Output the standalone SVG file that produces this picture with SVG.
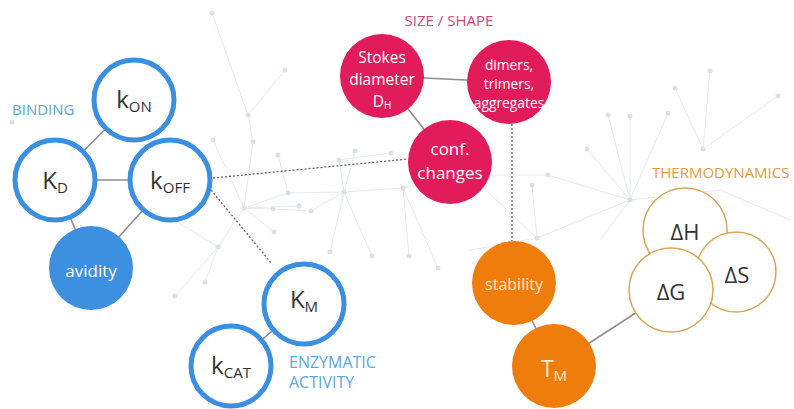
<svg xmlns="http://www.w3.org/2000/svg" width="794" height="409" viewBox="0 0 794 409">
<style>
text{font-family:"Open Sans","Liberation Sans",sans-serif}
.bg line{stroke:#e6eaef;stroke-width:1}
.bg circle{fill:#dce1e6}
.solid{stroke:#8f8f8f;stroke-width:1.6;fill:none}
.dot{stroke:#666;stroke-width:1.3;stroke-dasharray:2 2;fill:none}
.bc{fill:#fff;stroke:#3b8fe0;stroke-width:5}
.bf{fill:#3d8fe0}
.pk{fill:#e21b5a}
.or{fill:#ee7d0b}
.th{fill:#fff;stroke:#d9a656;stroke-width:1.5}
.dk{fill:#333;text-anchor:middle}
.wt{fill:#fff;text-anchor:middle}
.lblue{fill:#5ea7dc;font-size:15px}
</style>
<rect width="794" height="409" fill="#fff"/>
<g class="bg" id="background">
<line x1="244" y1="208" x2="213" y2="140"/><line x1="244" y1="208" x2="288" y2="193"/><line x1="244" y1="208" x2="273" y2="209"/>
<line x1="244" y1="208" x2="274" y2="232"/><line x1="244" y1="208" x2="218" y2="247"/><line x1="244" y1="208" x2="299" y2="206"/>
<line x1="244" y1="208" x2="253" y2="142"/><line x1="288" y1="193" x2="344" y2="192"/><line x1="344" y1="192" x2="403" y2="188"/>
<line x1="344" y1="192" x2="339" y2="160"/><line x1="344" y1="192" x2="330" y2="252"/><line x1="344" y1="192" x2="372" y2="256"/>
<line x1="311" y1="211" x2="344" y2="192"/><line x1="403" y1="188" x2="409" y2="256"/><line x1="403" y1="188" x2="438" y2="268"/>
<line x1="339" y1="160" x2="391" y2="153"/><line x1="278" y1="155" x2="288" y2="193"/><line x1="273" y1="209" x2="311" y2="211"/>
<line x1="218" y1="247" x2="205" y2="282"/><line x1="218" y1="247" x2="175" y2="296"/><line x1="212" y1="13" x2="248" y2="115"/>
<line x1="285" y1="70" x2="248" y2="115"/><line x1="248" y1="115" x2="253" y2="142"/><line x1="355" y1="151" x2="344" y2="192"/>
<line x1="403" y1="188" x2="470" y2="175"/><line x1="470" y1="175" x2="537" y2="238"/><line x1="470" y1="175" x2="548" y2="175"/>
<line x1="548" y1="175" x2="630" y2="200"/><line x1="537" y1="238" x2="630" y2="200"/><line x1="532" y1="185" x2="537" y2="238"/>
<line x1="630" y1="200" x2="630" y2="116"/><line x1="630" y1="200" x2="668" y2="113"/><line x1="630" y1="200" x2="608" y2="115"/>
<line x1="675" y1="88" x2="703" y2="149"/><line x1="710" y1="71" x2="703" y2="149"/><line x1="703" y1="149" x2="778" y2="96"/>
<line x1="587" y1="149" x2="630" y2="200"/><line x1="630" y1="200" x2="720" y2="190"/><line x1="537" y1="238" x2="470" y2="250"/>
<line x1="720" y1="190" x2="790" y2="220"/><line x1="600" y1="240" x2="630" y2="200"/><line x1="150" y1="205" x2="218" y2="247"/>
<circle cx="213" cy="140" r="2.5"/><circle cx="253" cy="142" r="2.5"/><circle cx="278" cy="155" r="2.5"/><circle cx="339" cy="160" r="2.5"/>
<circle cx="355" cy="151" r="2.5"/><circle cx="391" cy="153" r="2.5"/><circle cx="288" cy="193" r="2.5"/><circle cx="244" cy="208" r="2.5"/>
<circle cx="273" cy="209" r="2.5"/><circle cx="299" cy="206" r="2.5"/><circle cx="311" cy="211" r="2.5"/><circle cx="344" cy="192" r="2.5"/>
<circle cx="403" cy="188" r="2.5"/><circle cx="274" cy="232" r="2.5"/><circle cx="218" cy="247" r="2.5"/><circle cx="330" cy="252" r="2.5"/>
<circle cx="372" cy="256" r="2.5"/><circle cx="409" cy="256" r="2.5"/><circle cx="438" cy="268" r="2.5"/><circle cx="205" cy="282" r="2.5"/>
<circle cx="175" cy="296" r="2.5"/><circle cx="212" cy="13" r="2.5"/><circle cx="285" cy="70" r="2.5"/><circle cx="248" cy="115" r="2.5"/>
<circle cx="537" cy="238" r="2.5"/><circle cx="548" cy="175" r="2.5"/><circle cx="532" cy="185" r="2.5"/><circle cx="630" cy="200" r="2.5"/>
<circle cx="608" cy="115" r="2.5"/><circle cx="630" cy="116" r="2.5"/><circle cx="668" cy="113" r="2.5"/><circle cx="675" cy="88" r="2.5"/>
<circle cx="710" cy="71" r="2.5"/><circle cx="703" cy="149" r="2.5"/><circle cx="778" cy="96" r="2.5"/><circle cx="587" cy="149" r="2.5"/>
<circle cx="12" cy="122" r="2.5"/><circle cx="470" cy="175" r="2.5"/>
</g>
<g id="connectors">
<line class="solid" x1="134" y1="100" x2="55" y2="180"/>
<line class="solid" x1="55" y1="180" x2="170" y2="180"/>
<line class="solid" x1="55" y1="180" x2="91" y2="268"/>
<line class="solid" x1="170" y1="180" x2="91" y2="268"/>
<line class="solid" x1="304" y1="304" x2="231" y2="366"/>
<line class="solid" x1="382" y1="76" x2="508" y2="82"/>
<line class="solid" x1="382" y1="76" x2="450" y2="162"/>
<line class="solid" x1="514" y1="283" x2="554" y2="366"/>
<line class="solid" x1="554" y1="366" x2="671" y2="290"/>
<line class="dot" x1="213" y1="178" x2="408" y2="159"/>
<line class="dot" x1="211" y1="190" x2="272" y2="264"/>
<line class="dot" x1="512" y1="124" x2="512" y2="241"/>
</g>
<g id="label-binding"><text class="lblue" x="12" y="115">BINDING</text></g>
<g id="label-enzymatic"><text class="lblue" x="289" y="368" style="font-size:16px">ENZYMATIC</text><text class="lblue" x="289" y="388" style="font-size:16px">ACTIVITY</text></g>
<g id="label-size"><text x="449" y="26" style="fill:#c9497a;font-size:15px;text-anchor:middle">SIZE / SHAPE</text></g>
<g id="label-thermo"><text x="652" y="178" style="fill:#e39a3a;font-size:15px">THERMODYNAMICS</text></g>
<g id="kon"><circle class="bc" cx="134" cy="100" r="40"/><text class="dk" x="134" y="108" style="font-size:24px">k<tspan dy="4" style="font-size:15px">ON</tspan></text></g>
<g id="kd"><circle class="bc" cx="55" cy="180" r="40"/><text class="dk" x="55" y="189" style="font-size:24px">K<tspan dy="4" style="font-size:15px">D</tspan></text></g>
<g id="koff"><circle class="bc" cx="170" cy="180" r="40"/><text class="dk" x="170" y="189" style="font-size:24px">k<tspan dy="4" style="font-size:15px">OFF</tspan></text></g>
<g id="avidity"><circle class="bf" cx="91" cy="268" r="42"/><text class="wt" x="91" y="277" style="font-size:17px">avidity</text></g>
<g id="km"><circle class="bc" cx="304" cy="304" r="40"/><text class="dk" x="304" y="308" style="font-size:24px">K<tspan dy="4" style="font-size:15px">M</tspan></text></g>
<g id="kcat"><circle class="bc" cx="231" cy="366" r="40"/><text class="dk" x="231" y="374" style="font-size:24px">k<tspan dy="4" style="font-size:15px">CAT</tspan></text></g>
<g id="stokes"><circle class="pk" cx="382" cy="76" r="42"/><text class="wt" x="382" y="63" style="font-size:15.5px">Stokes</text><text class="wt" x="382" y="85" style="font-size:15.5px">diameter</text><text class="wt" x="382" y="106.5" style="font-size:15.5px">D<tspan dy="2" style="font-size:10px">H</tspan></text></g>
<g id="dimers"><circle class="pk" cx="509" cy="82" r="42"/><text class="wt" x="509" y="70" style="font-size:13.8px">dimers,</text><text class="wt" x="509" y="89" style="font-size:13.8px">trimers,</text><text class="wt" x="509" y="108" style="font-size:13.8px">aggregates</text></g>
<g id="conf"><circle class="pk" cx="450" cy="162" r="42"/><text class="wt" x="450" y="155" style="font-size:17px">conf.</text><text class="wt" x="450" y="179" style="font-size:17px">changes</text></g>
<g id="stability"><circle class="or" cx="514" cy="283" r="42"/><text x="514" y="290" style="fill:#fde9cf;font-size:16px;text-anchor:middle">stability</text></g>
<g id="tm"><circle class="or" cx="554" cy="366" r="42"/><text x="554" y="377" style="fill:#fde9cf;font-size:23px;text-anchor:middle">T<tspan dy="4" style="font-size:15px">M</tspan></text></g>
<g id="dh"><circle class="th" cx="685" cy="230" r="42"/><text class="dk" x="685" y="240" style="font-size:22px">ΔH</text></g>
<g id="ds"><circle class="th" cx="736" cy="272" r="40"/><text class="dk" x="737" y="283" style="font-size:22px">ΔS</text></g>
<g id="dg"><circle class="th" cx="671" cy="290" r="42"/><text class="dk" x="671" y="300" style="font-size:22px">ΔG</text></g>
</svg>
